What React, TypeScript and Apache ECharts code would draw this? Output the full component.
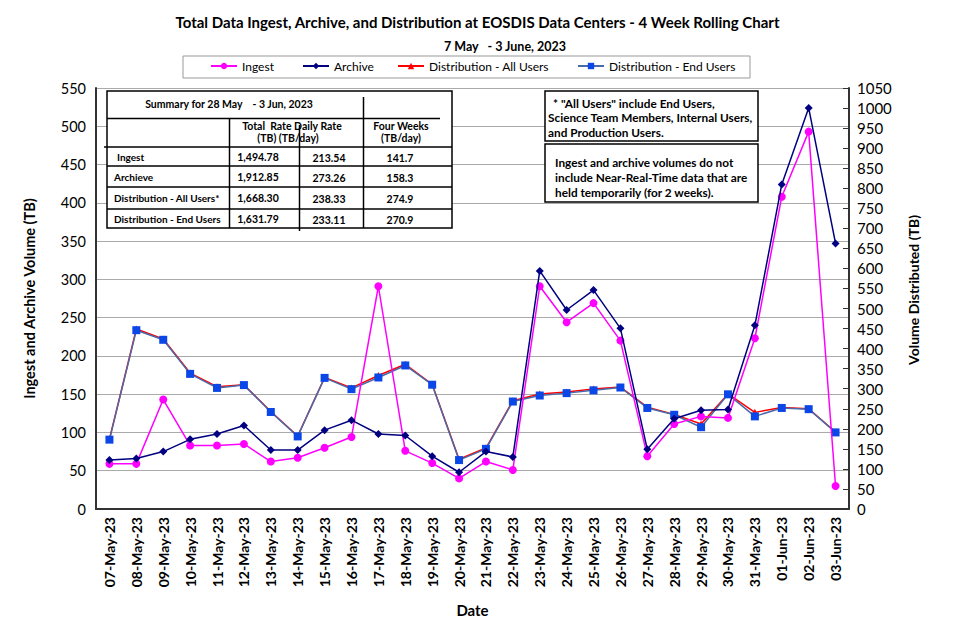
import React, { useEffect, useRef } from "react";
import * as echarts from "echarts";

const categories = [
  "07-May-23", "08-May-23", "09-May-23", "10-May-23", "11-May-23", "12-May-23", "13-May-23",
  "14-May-23", "15-May-23", "16-May-23", "17-May-23", "18-May-23", "19-May-23", "20-May-23",
  "21-May-23", "22-May-23", "23-May-23", "24-May-23", "25-May-23", "26-May-23", "27-May-23",
  "28-May-23", "29-May-23", "30-May-23", "31-May-23", "01-Jun-23", "02-Jun-23", "03-Jun-23",
];

const ingest = [59, 59, 143, 83, 83, 85, 62, 67, 80, 94, 291, 76, 60, 40, 62, 51, 291, 244, 269, 220, 69, 111, 121, 119, 223, 408, 493, 30];
const archive = [64, 66, 75, 91, 98, 109, 77, 77, 103, 116, 98, 96, 69, 48, 75, 68, 311, 260, 286, 236, 78, 118, 129, 130, 240, 424, 524, 347];
const distAll = [174, 449, 424, 339, 305, 310, 243, 182, 328, 302, 333, 361, 311, 124, 152, 270, 287, 292, 299, 304, 254, 236, 212, 287, 241, 253, 250, 192];
const distEnd = [173, 446, 422, 337, 302, 309, 242, 181, 327, 299, 328, 358, 310, 122, 150, 268, 283, 289, 296, 303, 252, 235, 204, 286, 231, 252, 249, 191];

const seriesNames = ["Ingest", "Archive", "Distribution - All Users", "Distribution - End Users"];

const tableRows = [
  ["Ingest", "1,494.78", "213.54", "141.7"],
  ["Archieve", "1,912.85", "273.26", "158.3"],
  ["Distribution - All Users*", "1,668.30", "238.33", "274.9"],
  ["Distribution - End Users", "1,631.79", "233.11", "270.9"],
];

const noteLines1 = ["* \"All Users\" include End Users,", "Science Team Members, Internal Users,", "and Production Users."];
const noteLines2 = ["Ingest and archive volumes do not", "include Near-Real-Time data that are", "held temporarily (for 2 weeks)."];

const FONT = "Lato, 'Open Sans', sans-serif";

function txt(text: string, x: number, y: number, size: number, align = "left", weight = "bold", rotation = 0) {
  return {
    type: "text",
    z: 100,
    x,
    y,
    rotation,
    style: {
      text,
      x: 0,
      y: 0,
      fill: "#000",
      font: `${weight} ${size}px ${FONT}`,
      textAlign: align,
      verticalAlign: "middle",
    },
  };
}

function ln(x1: number, y1: number, x2: number, y2: number, w = 1.5) {
  return {
    type: "line",
    z: 100,
    shape: { x1, y1, x2, y2 },
    style: { stroke: "#000", lineWidth: w },
  };
}

export default function App() {
  const ref = useRef<HTMLDivElement>(null);

  useEffect(() => {
    if (!ref.current) return;
    const chart = echarts.init(ref.current, undefined, { renderer: "svg" });

    const rowY = [157, 177, 198, 219];
    const colX = [258, 329, 400];
    const graphics: any[] = [];
    // legend box
    graphics.push({
      type: "rect",
      z: 0,
      shape: { x: 183, y: 56, width: 567, height: 22 },
      style: { fill: "#fff", stroke: "#999", lineWidth: 1 },
    });
    // table
    graphics.push({
      type: "rect",
      z: 99,
      shape: { x: 107, y: 91, width: 345, height: 137 },
      style: { fill: "#fff", stroke: "#000", lineWidth: 1.5 },
    });
    graphics.push(ln(107, 118.5, 440, 118.5));
    graphics.push(ln(104, 147, 452, 147));
    graphics.push(ln(107, 166, 452, 166));
    graphics.push(ln(107, 187, 452, 187));
    graphics.push(ln(107, 209, 452, 209));
    graphics.push(ln(229.5, 118.5, 229.5, 228));
    graphics.push(ln(299.5, 125, 299.5, 231));
    graphics.push(ln(363.5, 97, 363.5, 228));
    graphics.push(txt("Summary for 28 May    - 3 Jun, 2023", 229, 104, 10.5, "center"));
    graphics.push(txt("Total  Rate Daily Rate", 292, 126, 10.5, "center"));
    graphics.push(txt("(TB) (TB/day)", 288, 138, 10.5, "center"));
    graphics.push(txt("Four Weeks", 401, 126, 10.5, "center"));
    graphics.push(txt("(TB/day)", 401, 138, 10.5, "center"));
    tableRows.forEach((r, i) => {
      graphics.push(txt(r[0], i === 0 ? 117 : 114, rowY[i], 10, "left"));
      graphics.push(txt(r[1], colX[0], rowY[i], 10.5, "center"));
      graphics.push(txt(r[2], colX[1], rowY[i] + 1, 10.5, "center"));
      graphics.push(txt(r[3], colX[2], rowY[i] + 1, 10.5, "center"));
    });
    // notes
    graphics.push({
      type: "rect",
      z: 99,
      shape: { x: 545, y: 91, width: 213, height: 50 },
      style: { fill: "#fff", stroke: "#000", lineWidth: 1.5 },
    });
    graphics.push({
      type: "rect",
      z: 99,
      shape: { x: 545, y: 144, width: 213, height: 58 },
      style: { fill: "#fff", stroke: "#000", lineWidth: 1.5 },
    });
    noteLines1.forEach((t, i) => graphics.push(txt(t, i === 0 ? 553 : 548, 103 + i * 14.5, 11.8, "left")));
    noteLines2.forEach((t, i) => graphics.push(txt(t, 555, 162 + i * 15, 11.8, "left")));
    // right axis name
    graphics.push(txt("Volume Distributed (TB)", 913, 290, 14, "center", "bold", Math.PI / 2));

    const legendLefts = [210, 302, 397, 577];

    chart.setOption({
      animation: false,
      backgroundColor: "#fff",
      textStyle: { fontFamily: FONT },
      title: [
        {
          text: "Total Data Ingest, Archive, and Distribution at EOSDIS Data Centers - 4 Week Rolling Chart",
          left: "center",
          top: 9,
          textStyle: { fontSize: 15, fontWeight: "bold", color: "#000", fontFamily: FONT },
        },
        {
          text: "7 May   - 3 June, 2023",
          left: 439,
          top: 35,
          textStyle: { fontSize: 12.5, fontWeight: "bold", color: "#000", fontFamily: FONT },
        },
      ],
      legend: seriesNames.map((n, i) => ({
        data: [n],
        left: legendLefts[i],
        top: 60,
        padding: 0,
        itemWidth: 26,
        itemHeight: 8,
        itemGap: 0,
        textStyle: { fontSize: 12, color: "#000", fontFamily: FONT },
      })),
      grid: { left: 96, right: 106, top: 88, bottom: 129, containLabel: false },
      xAxis: {
        type: "category",
        data: categories,
        boundaryGap: true,
        name: "Date",
        nameLocation: "middle",
        nameGap: 93,
        nameTextStyle: { fontSize: 15, fontWeight: "bold", color: "#000", fontFamily: FONT },
        axisLine: { lineStyle: { color: "#333", width: 2 } },
        axisTick: { inside: true, length: 5, lineStyle: { color: "#555" } },
        axisLabel: {
          rotate: 90,
          interval: 0,
          margin: 8,
          fontSize: 14,
          fontWeight: "bold",
          color: "#000",
          fontFamily: FONT,
        },
      },
      yAxis: [
        {
          type: "value",
          min: 0,
          max: 550,
          interval: 50,
          name: "Ingest and Archive Volume (TB)",
          nameLocation: "middle",
          nameGap: 59,
          nameTextStyle: { fontSize: 14.5, fontWeight: "bold", color: "#000", fontFamily: FONT },
          axisLine: { show: true, lineStyle: { color: "#333", width: 2 } },
          axisTick: { show: false },
          axisLabel: { fontSize: 14.5, color: "#000", margin: 10, fontFamily: FONT },
          splitLine: { show: true, lineStyle: { color: "#aaa", width: 1.2 } },
        },
        {
          type: "value",
          min: 0,
          max: 1050,
          interval: 50,
          axisLine: { show: true, lineStyle: { color: "#333", width: 2 } },
          axisTick: { show: true, inside: true, length: 6, lineStyle: { color: "#333" } },
          axisLabel: {
            fontSize: 15,
            color: "#000",
            margin: 8,
            fontFamily: FONT,
            formatter: (v: number) => String(v),
          },
          splitLine: { show: false },
        },
      ],
      graphic: graphics,
      series: [
        {
          name: "Ingest",
          type: "line",
          yAxisIndex: 0,
          data: ingest,
          symbol: "circle",
          symbolSize: 8,
          itemStyle: { color: "#ff00ff" },
          lineStyle: { color: "#ff00ff", width: 1.5 },
          z: 3,
        },
        {
          name: "Archive",
          type: "line",
          yAxisIndex: 0,
          data: archive,
          symbol: "diamond",
          symbolSize: 8,
          itemStyle: { color: "#000080" },
          lineStyle: { color: "#000080", width: 1.5 },
          z: 4,
        },
        {
          name: "Distribution - All Users",
          type: "line",
          yAxisIndex: 1,
          data: distAll,
          symbol: "triangle",
          symbolSize: 7,
          itemStyle: { color: "#ff0000" },
          lineStyle: { color: "#ff0000", width: 1.5 },
          z: 2,
        },
        {
          name: "Distribution - End Users",
          type: "line",
          yAxisIndex: 1,
          data: distEnd,
          symbol: "rect",
          symbolSize: 8,
          itemStyle: { color: "#0a47e6" },
          lineStyle: { color: "#4a6aa8", width: 1.5 },
          z: 2,
        },
      ],
    });

    return () => chart.dispose();
  }, []);

  return (
    <div
      ref={ref}
      style={{ position: "fixed", left: 0, top: 0, width: 955, height: 638, background: "#fff" }}
    />
  );
}
